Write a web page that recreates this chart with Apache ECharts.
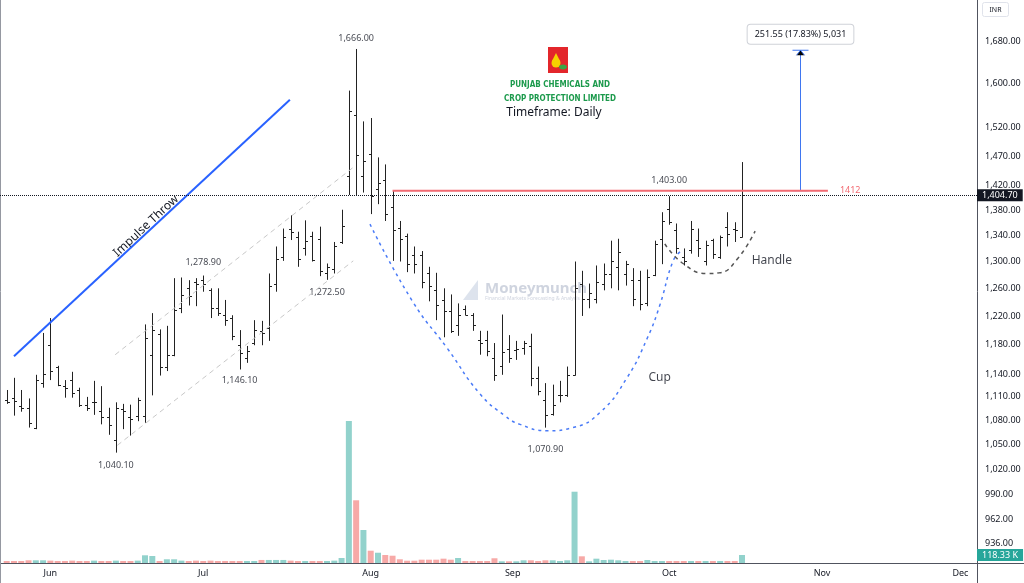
<!DOCTYPE html>
<html>
<head>
<meta charset="utf-8">
<title>Punjab Chemicals - Cup and Handle</title>
<script src="https://cdn.jsdelivr.net/npm/echarts@6.0.0/dist/echarts.min.js"></script>
<style>
  html, body { margin: 0; padding: 0; background: #fff; }
  #chart { width: 1024px; height: 583px; }
</style>
</head>
<body>
<div id="chart"></div>
<script>
// daily bars, index 0 = first bar at the left edge (early June)
let opens = [1106, 1109, 1098, 1096, 1071, 1128, 1179, 1150, 1124, 1132, 1119, 1099, 1103, 1092, 1084, 1056, 1094, 1084, 1086, 1085,
  1166, 1194, 1150, 1166, 1231, 1260, 1270, 1272, 1257, 1231, 1221, 1217, 1179, 1162, 1182, 1199, 1203, 1267, 1307, 1351,
  1338, 1320, 1340, 1335, 1282, 1289, 1330, 1437, 1542, 1436, 1474, 1415, 1430, 1385, 1352, 1340, 1310, 1310, 1282, 1257,
  1243, 1227, 1207, 1230, 1221, 1186, 1186, 1162, 1151, 1174, 1173, 1175, 1178, 1135, 1106, 1088, 1112, 1113, 1139, 1267,
  1245, 1245, 1267, 1281, 1292, 1281, 1273, 1273, 1238, 1279, 1335, 1382, 1349, 1307, 1318, 1333, 1301, 1333, 1307, 1354,
  1351, 1338];
let highs = [1119, 1135, 1119, 1108, 1139, 1196, 1217, 1151, 1132, 1143, 1122, 1110, 1131, 1124, 1096, 1103, 1101, 1100, 1109, 1208,
  1224, 1201, 1206, 1275, 1276, 1272, 1275, 1278.9, 1260, 1260, 1243, 1221, 1200, 1178, 1214, 1213, 1282, 1323, 1351, 1372,
  1346, 1364, 1346, 1354, 1297, 1330, 1381, 1587, 1666, 1531, 1537, 1468, 1456, 1412, 1363, 1343, 1323, 1316, 1292, 1283,
  1260, 1251, 1238, 1235, 1224, 1199, 1199, 1182, 1222, 1193, 1185, 1185, 1195, 1150, 1128, 1126, 1131, 1150, 1300, 1286,
  1267, 1294, 1297, 1332, 1335, 1301, 1290, 1286, 1288, 1332, 1377, 1403, 1359, 1320, 1363, 1351, 1332, 1335, 1340, 1377,
  1361, 1460];
let lows = [1101, 1086, 1091, 1071, 1069, 1122, 1132, 1124, 1109, 1109, 1097, 1092, 1087, 1075, 1062, 1040.1, 1069, 1061, 1079, 1077,
  1112, 1138, 1144, 1164, 1224, 1235, 1234, 1255, 1217, 1220, 1206, 1186, 1146.1, 1155, 1179, 1179, 1185, 1255, 1301, 1333,
  1292, 1309, 1300, 1278, 1272.5, 1282, 1327, 1405, 1405, 1409, 1374, 1390, 1363, 1301, 1300, 1284, 1282, 1260, 1241, 1214,
  1190, 1196, 1192, 1221, 1199, 1166, 1164, 1131, 1139, 1155, 1159, 1166, 1124, 1112, 1070.9, 1086, 1103, 1110, 1138, 1220,
  1231, 1238, 1257, 1260, 1257, 1264, 1234, 1228, 1234, 1278, 1296, 1357, 1312, 1294, 1312, 1307, 1294, 1304, 1304, 1323,
  1330, 1337];
let closes = [1104, 1105, 1096, 1077, 1132, 1140, 1144, 1126, 1122, 1115, 1100, 1096, 1104, 1084, 1074, 1096, 1092, 1082, 1106, 1189,
  1200, 1150, 1166, 1228, 1250, 1248, 1267, 1267, 1231, 1224, 1214, 1192, 1168, 1171, 1200, 1196, 1263, 1304, 1338, 1346,
  1304, 1332, 1303, 1285, 1292, 1323, 1355, 1550, 1472, 1462, 1403, 1425, 1374, 1348, 1334, 1297, 1297, 1270, 1263, 1235,
  1227, 1199, 1221, 1222, 1207, 1182, 1171, 1139, 1170, 1162, 1174, 1182, 1135, 1118, 1087, 1100, 1113, 1139, 1260, 1245,
  1253, 1270, 1281, 1301, 1314, 1296, 1245, 1237, 1276, 1327, 1363, 1361, 1320, 1301, 1351, 1320, 1326, 1312, 1338, 1343,
  1348, 1404.7];
// volume in thousands of shares
let volumes = [30, 30, 30, 40, 40, 40, 35, 30, 30, 35, 30, 30, 35, 30, 30, 35, 30, 30, 35, 114,
  104, 30, 55, 55, 35, 30, 35, 30, 35, 30, 30, 30, 30, 30, 30, 45, 45, 45, 45, 35,
  30, 30, 30, 30, 30, 35, 74, 2100, 928, 488, 182, 152, 118, 108, 55, 34, 34, 49, 49, 49,
  64, 49, 74, 30, 30, 30, 30, 70, 25, 25, 25, 40, 40, 30, 40, 40, 30, 40, 1055, 99,
  25, 64, 44, 49, 40, 30, 30, 30, 44, 30, 30, 30, 30, 30, 30, 30, 30, 30, 30, 30,
  30, 118.33];

let monthNames = ['Jun', 'Jul', 'Aug', 'Sep', 'Oct', 'Nov', 'Dec'];
let monthTicks = [6, 27, 50, 69.5, 91, 112, 131];
let priceTicks = [1680, 1600, 1520, 1470, 1420, 1380, 1340, 1300, 1260, 1220, 1180, 1140, 1110, 1080, 1050, 1020, 990, 962, 936];

let lastPrice = 1404.7;
let breakoutLevel = 1412;
let breakoutFrom = 53;
let breakoutTo = 112.8;

// drawings, in [bar index, price]
let impulseLine = [[1.0, 1164], [38.9, 1570]];
let channelTop = [[14.9, 1166], [47.6, 1451]];
let channelBottom = [[15.2, 1049], [47.6, 1301]];
let cupCurve = [[49.9, 1358], [55.8, 1240], [60.5, 1175], [65, 1114], [68.4, 1086], [70.5, 1075], [74.2, 1067],
  [77.8, 1071], [81.5, 1090], [85.2, 1135], [88, 1189], [89.7, 1235], [91.5, 1300], [92.5, 1315]];
let handleCurve = [[90.4, 1327], [92.9, 1297], [96.2, 1282], [97.9, 1283], [100.3, 1303], [102.8, 1347]];
let measure = [[109, 1412, 1663.55]];
let measureText = '251.55 (17.83%) 5,031';

// swing labels: bar index, above/below, gap
let pivotIdx = [48, 27, 44, 32, 15, 74, 91];
let pivotSide = ['top', 'top', 'bottom', 'bottom', 'bottom', 'bottom', 'top'];
let pivotGap = [6, 8, 8, 6, 8, 17, 11];

let notes = [{ name: 'Cup', value: [89.7, 1135] }, { name: 'Handle', value: [105.1, 1302] }];

let upColor = '#92d2cc';
let downColor = '#f7a9a7';
let font = 'Noto Sans';

function fmtPrice(v) {
  return v.toLocaleString('en-US', { minimumFractionDigits: 2, maximumFractionDigits: 2 });
}

let myChart = echarts.init(document.getElementById('chart'));

let ohlcData = opens.map((o, i) => [i, o, highs[i], lows[i], closes[i]]);
let volData = volumes.map((v, i) => ({
  value: [i, v],
  itemStyle: { color: closes[i] >= opens[i] ? upColor : downColor },
}));
let pivotData = pivotIdx.map((i, n) => {
  let p = pivotSide[n] == 'top' ? highs[i] : lows[i];
  return {
    value: [i, p],
    label: { position: pivotSide[n], distance: pivotGap[n], formatter: fmtPrice(p) },
  };
});

function renderOhlc(params, api) {
  let i = api.value(0);
  let pO = api.coord([i, api.value(1)]);
  let pH = api.coord([i, api.value(2)]);
  let pL = api.coord([i, api.value(3)]);
  let pC = api.coord([i, api.value(4)]);
  let x = Math.round(pH[0]) + 0.5;
  let yo = Math.round(pO[1]) + 0.5;
  let yc = Math.round(pC[1]) + 0.5;
  let style = { stroke: '#222', lineWidth: 1 };
  return {
    type: 'group',
    children: [
      { type: 'line', shape: { x1: x, y1: pH[1], x2: x, y2: pL[1] }, style },
      { type: 'line', shape: { x1: x - 2.5, y1: yo, x2: x, y2: yo }, style },
      { type: 'line', shape: { x1: x, y1: yc, x2: x + 2.5, y2: yc }, style },
    ],
  };
}

// the measuring arrow above the breakout level
function renderMeasure(params, api) {
  let b = api.coord([api.value(0), api.value(1)]);
  let t = api.coord([api.value(0), api.value(2)]);
  let x = Math.round(b[0]) + 0.5;
  let style = { stroke: '#3f76f0', lineWidth: 1 };
  return {
    type: 'group',
    children: [
      { type: 'line', shape: { x1: x, y1: b[1], x2: x, y2: t[1] }, style },
      { type: 'line', shape: { x1: x - 8, y1: b[1], x2: x + 8, y2: b[1] }, style },
      { type: 'line', shape: { x1: x - 8, y1: t[1], x2: x + 8, y2: t[1] }, style },
      { type: 'polyline', shape: { points: [[x - 4, t[1] + 5], [x, t[1]], [x + 4, t[1] + 5]] }, style },
      {
        type: 'text',
        x: x,
        y: t[1] - 16,
        style: {
          text: measureText,
          align: 'center',
          verticalAlign: 'middle',
          fill: '#131722',
          font: '9px ' + font,
          backgroundColor: '#fff',
          borderColor: '#cfd2d8',
          borderWidth: 1,
          borderRadius: 3,
          padding: [5, 7],
        },
      },
    ],
  };
}

let option = {
  animation: false,
  backgroundColor: '#fff',
  textStyle: { fontFamily: font },
  grid: { left: 0, right: 47, top: 0, bottom: 20, outerBoundsMode: 'none' },
  xAxis: {
    type: 'value',
    min: -0.92,
    max: 133.28,
    splitLine: { show: false },
    axisLine: { show: false },
    axisTick: { show: false },
    axisLabel: {
      customValues: monthTicks,
      margin: 6,
      fontSize: 9,
      color: '#131722',
      formatter: function (v) {
        let n = monthTicks.findIndex((m) => Math.abs(m - v) < 0.01);
        return n >= 0 ? monthNames[n] : '';
      },
    },
  },
  yAxis: [
    {
      type: 'log',
      position: 'right',
      min: 914.4,
      max: 1764,
      splitLine: { show: false },
      axisLine: { show: false },
      axisTick: { show: false },
      axisLabel: {
        customValues: priceTicks,
        margin: 8,
        fontSize: 9,
        color: '#131722',
        formatter: fmtPrice,
      },
    },
    {
      type: 'value',
      min: 0,
      max: 8332,
      show: false,
      splitLine: { show: false },
    },
  ],
  series: [
    {
      name: '成交量',
      type: 'bar',
      yAxisIndex: 1,
      barWidth: 6,
      data: volData,
      markLine: {
        silent: true,
        symbol: 'none',
        lineStyle: { color: 'rgba(0,0,0,0)', width: 1 },
        label: {
          show: true,
          position: 'end',
          distance: 0,
          formatter: volumes[volumes.length - 1] + ' K',
          color: '#fff',
          fontSize: 9,
          backgroundColor: '#26a69a',
          padding: [2, 5, 1, 5],
        },
        data: [{ yAxis: volumes[volumes.length - 1] }],
      },
    },
    {
      name: 'OHLC',
      type: 'custom',
      renderItem: renderOhlc,
      encode: { x: 0, y: [1, 2, 3, 4] },
      data: ohlcData,
    },
    {
      name: '上升线',
      type: 'line',
      data: impulseLine,
      symbol: 'none',
      lineStyle: { color: '#2962ff', width: 2 },
      markLine: {
        silent: true,
        symbol: 'none',
        lineStyle: { color: '#131722', type: 'dotted', width: 1 },
        label: {
          position: 'end',
          distance: 0,
          formatter: fmtPrice(lastPrice),
          color: '#fff',
          fontSize: 9,
          backgroundColor: '#131722',
          padding: [2, 5, 1, 5],
        },
        data: [{ yAxis: lastPrice }],
      },
    },
    {
      type: 'line',
      data: channelTop,
      symbol: 'none',
      lineStyle: { color: '#c8c8c8', width: 1, type: [5, 4] },
    },
    {
      type: 'line',
      data: channelBottom,
      symbol: 'none',
      lineStyle: { color: '#c8c8c8', width: 1, type: [5, 4] },
    },
    {
      name: '突破线',
      type: 'line',
      data: [[breakoutFrom, breakoutLevel], [breakoutTo, breakoutLevel]],
      symbol: 'none',
      lineStyle: { color: '#f26b73', width: 2 },
      endLabel: {
        show: true,
        formatter: String(breakoutLevel),
        color: '#f26b73',
        fontSize: 9,
        distance: 12,
      },
    },
    {
      name: '杯',
      type: 'line',
      data: cupCurve,
      symbol: 'none',
      smooth: 0.5,
      lineStyle: { color: '#4a7bf7', width: 1.5, type: [3, 4] },
    },
    {
      name: '柄',
      type: 'line',
      data: handleCurve,
      symbol: 'none',
      smooth: 0.5,
      lineStyle: { color: '#555', width: 1.5, type: [4, 4] },
    },
    {
      type: 'custom',
      renderItem: renderMeasure,
      encode: { x: 0, y: [1, 2] },
      data: measure,
    },
    {
      name: '高低点',
      type: 'scatter',
      symbolSize: 1,
      itemStyle: { color: 'transparent' },
      label: { show: true, color: '#131722', fontSize: 9, fontFamily: font },
      data: pivotData,
    },
    {
      name: '注释',
      type: 'scatter',
      symbolSize: 1,
      itemStyle: { color: 'transparent' },
      label: {
        show: true,
        position: 'inside',
        color: '#131722',
        fontSize: 12,
        fontFamily: font,
        formatter: (p) => p.name,
      },
      data: notes,
    },
  ],
  graphic: [
    // panel borders
    { type: 'line', shape: { x1: 977.5, y1: 0, x2: 977.5, y2: 583 }, style: { stroke: '#50535e', lineWidth: 1 } },
    { type: 'line', shape: { x1: 0, y1: 563.5, x2: 1024, y2: 563.5 }, style: { stroke: '#50535e', lineWidth: 1 } },
    { type: 'line', shape: { x1: 0.5, y1: 0, x2: 0.5, y2: 583 }, style: { stroke: '#9598a1', lineWidth: 1 } },
    {
      type: 'rect',
      shape: { x: 982.5, y: 2.5, width: 26, height: 14, r: 2 },
      style: { fill: '#fff', stroke: '#e0e3eb', lineWidth: 1 },
    },
    {
      type: 'text',
      x: 995.5,
      y: 10,
      style: { text: 'INR', align: 'center', verticalAlign: 'middle', fill: '#131722', font: '7px ' + font },
    },
    {
      type: 'text',
      x: 146,
      y: 226,
      rotation: (43 * Math.PI) / 180,
      style: { text: 'Impulse Throw', align: 'center', verticalAlign: 'middle', fill: '#131722', font: '12px ' + font },
    },
    // company logo
    { type: 'rect', shape: { x: 548, y: 47, width: 20, height: 26 }, style: { fill: '#e3262b' } },
    { type: 'circle', shape: { cx: 556, cy: 63, r: 4.5 }, style: { fill: '#f6d200' } },
    { type: 'polygon', shape: { points: [[552, 61], [556, 53], [560, 61]] }, style: { fill: '#f6d200' } },
    { type: 'ellipse', shape: { cx: 563, cy: 67, rx: 4, ry: 2.5 }, style: { fill: '#3aa545' } },
    {
      type: 'text',
      x: 560,
      y: 85,
      style: { text: 'PUNJAB CHEMICALS AND', align: 'center', verticalAlign: 'middle', fill: '#1c9a4c', font: 'bold 8px DejaVu Sans Condensed' },
    },
    {
      type: 'text',
      x: 560,
      y: 99,
      style: { text: 'CROP PROTECTION LIMITED', align: 'center', verticalAlign: 'middle', fill: '#1c9a4c', font: 'bold 8px DejaVu Sans Condensed' },
    },
    {
      type: 'text',
      x: 554,
      y: 113,
      style: { text: 'Timeframe: Daily', align: 'center', verticalAlign: 'middle', fill: '#131722', font: '12px ' + font },
    },
    // watermark
    { type: 'polygon', shape: { points: [[463, 300], [478, 280], [478, 300]] }, style: { fill: 'rgba(170,185,210,0.4)' } },
    {
      type: 'text',
      x: 485,
      y: 289,
      style: { text: 'Moneymunch', verticalAlign: 'middle', fill: 'rgba(160,170,192,0.5)', font: 'bold 15px ' + font },
    },
    {
      type: 'text',
      x: 485,
      y: 299,
      style: { text: 'Financial Markets Forecasting & Analysis', verticalAlign: 'middle', fill: 'rgba(160,170,192,0.5)', font: '5px ' + font },
    },
  ],
};

myChart.setOption(option);
</script>
</body>
</html>
